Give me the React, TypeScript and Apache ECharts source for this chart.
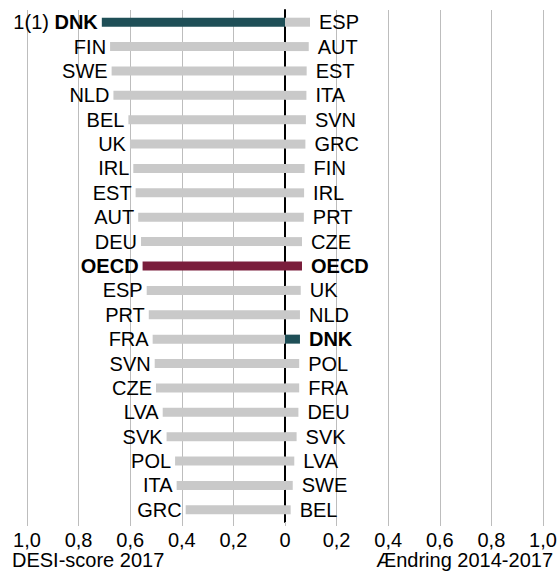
import React, { useEffect, useRef } from "react";
import * as echarts from "echarts";

const leftCountries = ["DNK", "FIN", "SWE", "NLD", "BEL", "UK", "IRL", "EST", "AUT", "DEU", "OECD", "ESP", "PRT", "FRA", "SVN", "CZE", "LVA", "SVK", "POL", "ITA", "GRC"];
const leftScores = [0.71, 0.678, 0.672, 0.665, 0.607, 0.601, 0.588, 0.579, 0.569, 0.558, 0.552, 0.536, 0.528, 0.513, 0.505, 0.5, 0.474, 0.459, 0.426, 0.42, 0.385];
const rightCountries = ["ESP", "AUT", "EST", "ITA", "SVN", "GRC", "FIN", "IRL", "PRT", "CZE", "OECD", "UK", "NLD", "DNK", "POL", "FRA", "DEU", "SVK", "LVA", "SWE", "BEL"];
const rightChanges = [0.097, 0.092, 0.084, 0.083, 0.081, 0.079, 0.076, 0.074, 0.073, 0.066, 0.066, 0.061, 0.058, 0.058, 0.055, 0.055, 0.052, 0.045, 0.036, 0.03, 0.022];
const xTicks = [-1, -0.8, -0.6, -0.4, -0.2, 0, 0.2, 0.4, 0.6, 0.8, 1];
const leftTitle = "DESI-score 2017";
const rightTitle = "Ændring 2014-2017";
const rankLabel = "1(1) ";

const GRAY = "#c9c9c9";
const TEAL = "#1f4f57";
const MAROON = "#7a1e3c";
const FONT = "'Liberation Sans', Arial, sans-serif";

function colorFor(name: string) {
  if (name === "DNK") return TEAL;
  if (name === "OECD") return MAROON;
  return GRAY;
}

export default function App() {
  const ref = useRef<HTMLDivElement>(null);
  useEffect(() => {
    if (!ref.current) return;
    const chart = echarts.init(ref.current, undefined, { renderer: "svg" });
    const rows = leftCountries.map((_, i) => String(i));
    const leftData = leftCountries.map((c, i) => ({
      value: -leftScores[i],
      name: c,
      itemStyle: { color: colorFor(c) },
    }));
    const rightData = rightCountries.map((c, i) => ({
      value: rightChanges[i],
      name: c,
      itemStyle: { color: colorFor(c) },
    }));
    const rich = {
      n: { fontSize: 20, fontFamily: FONT, color: "#000" },
      b: { fontSize: 20, fontFamily: FONT, color: "#000", fontWeight: "bold" as const },
    };
    chart.setOption({
      animation: false,
      grid: { left: 27, right: 17, top: 10, bottom: 50, containLabel: false },
      xAxis: {
        type: "value",
        min: -1,
        max: 1,
        interval: 0.2,
        axisLine: { show: false },
        axisTick: { show: true, length: 4, lineStyle: { color: "#bdbdbd" } },
        splitLine: { show: true, lineStyle: { color: "#bdbdbd", width: 1 } },
        axisLabel: {
          margin: 8,
          fontSize: 20,
          fontFamily: FONT,
          color: "#000",
          customValues: xTicks,
          formatter: (v: number) => {
            const a = Math.abs(v);
            if (a < 1e-9) return "0";
            return a.toFixed(1).replace(".", ",");
          },
        },
      },
      yAxis: {
        type: "category",
        inverse: true,
        data: rows,
        axisLine: { show: true, onZero: true, lineStyle: { color: "#000", width: 2 } },
        axisTick: { show: false },
        axisLabel: { show: false },
        splitLine: { show: false },
      },
      series: [
        {
          type: "bar",
          data: leftData,
          barWidth: 9,
          barGap: "-100%",
          label: {
            show: true,
            position: "left",
            distance: 4,
            rich,
            formatter: (p: any) => {
              if (p.dataIndex === 0) return `{n|${rankLabel}}{b|${p.name}}`;
              if (p.name === "OECD") return `{b|${p.name}}`;
              return `{n|${p.name}}`;
            },
          },
        },
        {
          type: "bar",
          data: rightData,
          barWidth: 9,
          barGap: "-100%",
          label: {
            show: true,
            position: "right",
            distance: 9,
            rich,
            formatter: (p: any) => {
              if (p.name === "OECD" || p.name === "DNK") return `{b|${p.name}}`;
              return `{n|${p.name}}`;
            },
          },
        },
      ],
      graphic: [
        {
          type: "text",
          left: 12,
          top: 550,
          style: { text: leftTitle, fontSize: 20, fontFamily: FONT, fill: "#000" },
        },
        {
          type: "text",
          right: 7,
          top: 550,
          style: { text: rightTitle, fontSize: 20, fontFamily: FONT, fill: "#000" },
        },
      ],
    });
    return () => chart.dispose();
  }, []);
  return (
    <div
      ref={ref}
      style={{ position: "fixed", left: 0, top: 0, width: 560, height: 572, background: "#fff" }}
    />
  );
}
